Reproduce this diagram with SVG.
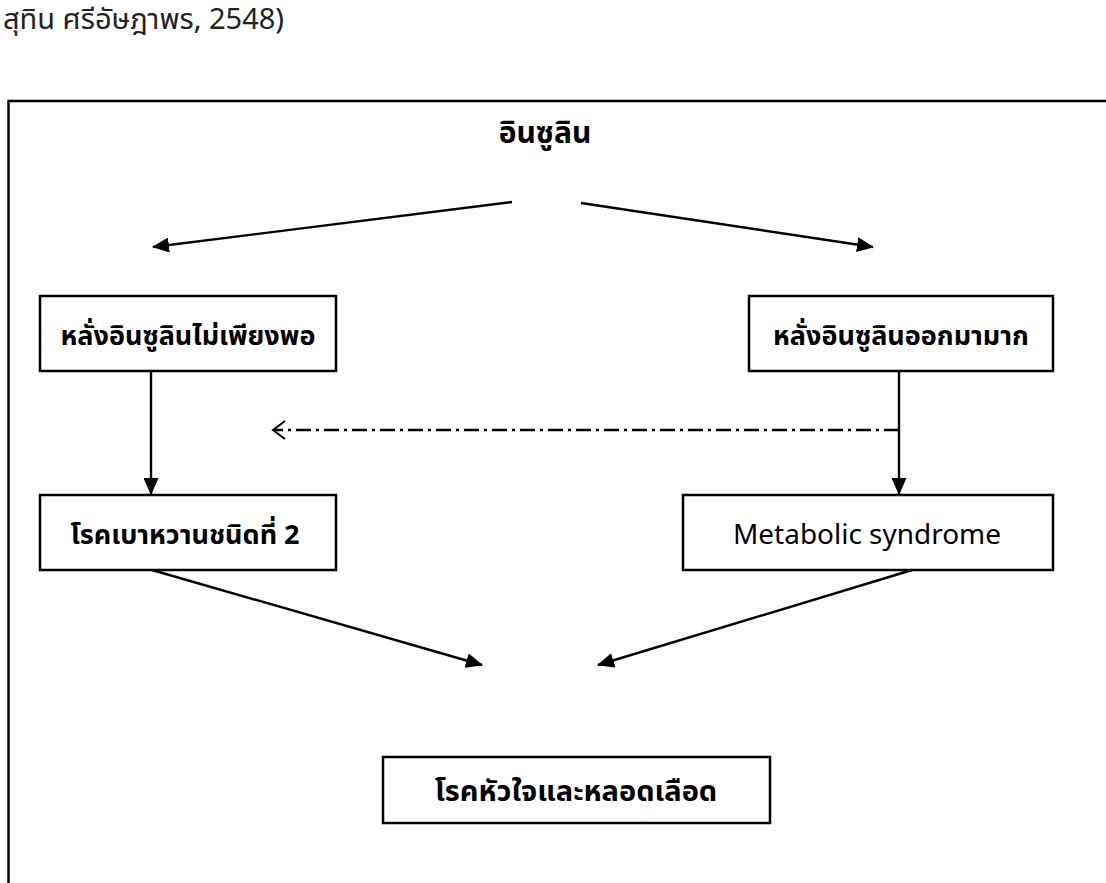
<svg xmlns="http://www.w3.org/2000/svg" width="1106" height="883" viewBox="0 0 1106 883">
<style>
.box{fill:#fff;stroke:#000;stroke-width:2.5}
.t{font-family:"Noto Sans Thai","Noto Sans","DejaVu Sans",sans-serif;font-size:27px;fill:#000;text-anchor:middle}
.b{font-weight:bold}
.ln{stroke:#000;stroke-width:2.4;fill:none}
</style>
<defs>
<marker id="ah" markerUnits="userSpaceOnUse" markerWidth="17" markerHeight="15" refX="16" refY="7.5" orient="auto">
<path d="M0,0 L17,7.5 L0,15 Z" fill="#000"/>
</marker>
<marker id="oh" markerUnits="userSpaceOnUse" markerWidth="16" markerHeight="20" refX="14" refY="10" orient="auto">
<path d="M2,1 L14,10 L2,19" fill="none" stroke="#000" stroke-width="2"/>
</marker>
</defs>
<rect width="1106" height="883" fill="#fff"/>
<text x="3" y="29" style="font-family:'Noto Sans Thai','Noto Sans',sans-serif;font-size:29px" fill="#222">สุทิน ศรีอัษฎาพร, 2548)</text>
<path d="M8.5,883 V101 H1106" class="ln" stroke-width="2.5"/>
<g id="n-insulin"><text x="545" y="143" class="t b" style="font-size:30px">อินซูลิน</text></g>
<g id="n-low"><rect x="40" y="296" width="296" height="75" class="box"/><text x="188" y="345" class="t b">หลั่งอินซูลินไม่เพียงพอ</text></g>
<g id="n-high"><rect x="749" y="296" width="304" height="75" class="box"/><text x="901" y="345" class="t b">หลั่งอินซูลินออกมามาก</text></g>
<g id="n-dm2"><rect x="40" y="495" width="296" height="75" class="box"/><text x="185" y="544" class="t b">โรคเบาหวานชนิดที่ 2</text></g>
<g id="n-mets"><rect x="683" y="495" width="370" height="75" class="box"/><text x="867" y="544" class="t" textLength="268" lengthAdjust="spacingAndGlyphs">Metabolic syndrome</text></g>
<g id="n-cvd"><rect x="383" y="757" width="387" height="66" class="box"/><text x="576" y="801" class="t b" style="font-size:29px">โรคหัวใจและหลอดเลือด</text></g>
<g id="connectors">
<line x1="512" y1="202" x2="153" y2="247" class="ln" marker-end="url(#ah)"/>
<line x1="581" y1="203" x2="873" y2="247" class="ln" marker-end="url(#ah)"/>
<line x1="151" y1="371" x2="151" y2="494" class="ln" marker-end="url(#ah)"/>
<line x1="899" y1="371" x2="899" y2="494" class="ln" marker-end="url(#ah)"/>
<line x1="899" y1="430" x2="273" y2="430" class="ln" stroke-dasharray="15 5 3 5" marker-end="url(#oh)"/>
<line x1="152" y1="570" x2="482" y2="665" class="ln" marker-end="url(#ah)"/>
<line x1="912" y1="570" x2="598" y2="665" class="ln" marker-end="url(#ah)"/>
</g>
</svg>
